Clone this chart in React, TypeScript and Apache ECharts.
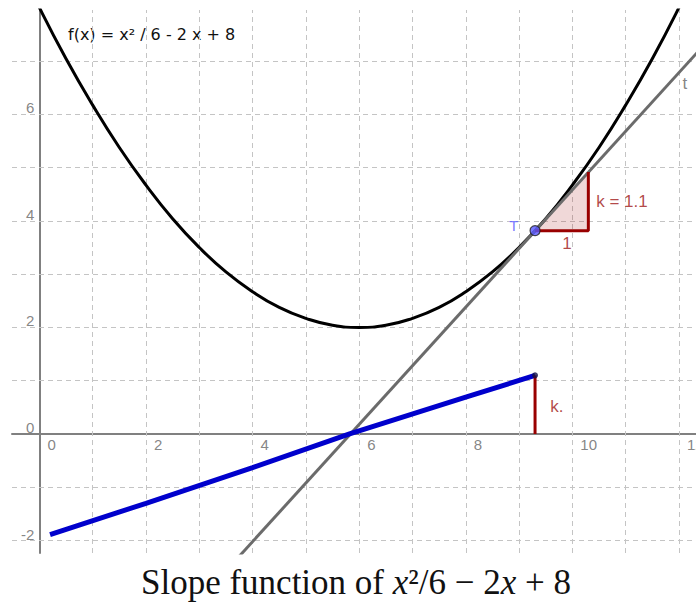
import React, { useEffect, useRef } from "react";
import * as echarts from "echarts";

// Parabola samples
const curveX = [-0.5, 0, 0.5, 1, 1.5, 2, 2.5, 3, 3.5, 4, 4.5, 5, 5.5, 6, 6.5, 7, 7.5, 8, 8.5, 9, 9.5, 10, 10.5, 11, 11.5, 12, 12.5];
const curveY = [9.04, 8, 7.04, 6.17, 5.375, 4.67, 4.04, 3.5, 3.04, 2.67, 2.375, 2.17, 2.04, 2, 2.04, 2.17, 2.375, 2.67, 3.04, 3.5, 4.04, 4.67, 5.375, 6.17, 7.04, 8, 9.04];

// Tangent line t
const tangentX = [3.5, 12.5];
const tangentY = [-2.57, 7.33];

// Slope function trace (blue)
const traceX = [0.2, 2, 4, 5.82, 8, 9.3];
const traceY = [-1.89, -1.3, -0.63, 0, 0.69, 1.1];

// Slope triangle
const slopeX = [9.3, 10.3, 10.3];
const slopeY = [3.815, 3.815, 4.915];

// k segment
const kSegX = [9.3, 9.3];
const kSegY = [0, 1.1];

// Point T
const pointT = [9.3, 3.815];

// Ticks and grid
const xTicks = [0, 2, 4, 6, 8, 10, 12];
const yTicks = [-2, 0, 2, 4, 6];
const gridXs = [1, 2, 3, 4, 5, 6, 7, 8, 9, 10, 11, 12];
const gridYs = [-2, -1, 1, 2, 3, 4, 5, 6, 7];

const zip = (a: number[], b: number[]) => a.map((v, i) => [v, b[i]]);

export default function App() {
  const ref = useRef<HTMLDivElement>(null);
  useEffect(() => {
    const chart = echarts.init(ref.current!, null, { renderer: "svg" });
    const red = "#990000";
    const textRed = "#a01818";
    const gridLines = [
      ...gridXs.map((v) => ({ xAxis: v })),
      ...gridYs.map((v) => ({ yAxis: v })),
    ];
    const tickLabelStyle = {
      show: true,
      position: "inside",
      formatter: (p: any) => p.name,
      color: "#666",
      fontFamily: "Liberation Sans",
      fontSize: 15,
    };
    chart.setOption({
      animation: false,
      grid: { left: 12, right: 0, top: 10, bottom: 50, containLabel: false, outerBoundsMode: "none" },
      xAxis: {
        type: "value",
        min: -0.514,
        max: 12.32,
        axisLine: { onZero: true, lineStyle: { color: "#808080", width: 2 } },
        axisTick: { show: false },
        splitLine: { show: false },
        axisLabel: { show: false },
      },
      yAxis: {
        type: "value",
        min: -2.233,
        max: 7.955,
        axisLine: { onZero: true, lineStyle: { color: "#808080", width: 2 } },
        axisTick: { show: false },
        splitLine: { show: false },
        axisLabel: { show: false },
      },
      graphic: [
        {
          type: "text",
          x: 68,
          y: 34,
          style: {
            text: "f(x) = x² / 6 - 2 x + 8",
            fontFamily: "DejaVu Sans",
            fontSize: 16,
            fill: "#111",
            verticalAlign: "middle",
          },
        },
        {
          type: "text",
          x: 356,
          y: 582,
          style: {
            text: "{r|Slope function of }{i|x}{r|²/6 − 2}{i|x}{r| + 8}",
            align: "center",
            verticalAlign: "middle",
            rich: {
              r: { fontFamily: "Liberation Serif", fontSize: 35, fill: "#111" },
              i: { fontFamily: "Liberation Serif", fontStyle: "italic", fontSize: 35, fill: "#111" },
            },
          },
        },
      ],
      series: [
        {
          type: "line",
          data: [],
          z: 1,
          markLine: {
            silent: true,
            z: 1,
            symbol: ["none", "none"],
            label: { show: false },
            lineStyle: { color: "#c4c4c4", width: 1, type: [5, 4] },
            data: gridLines,
          },
        },
        {
          type: "scatter",
          z: 2,
          symbolSize: 1,
          itemStyle: { color: "transparent" },
          label: { ...tickLabelStyle, align: "left", verticalAlign: "top", offset: [8, 3] },
          data: xTicks.map((v) => ({ name: String(v), value: [v, 0] })),
        },
        {
          type: "scatter",
          z: 2,
          symbolSize: 1,
          itemStyle: { color: "transparent" },
          label: { ...tickLabelStyle, align: "right", verticalAlign: "bottom", offset: [-5, 1] },
          data: yTicks.map((v) => ({ name: String(v), value: [0, v] })),
        },
        {
          type: "custom",
          z: 2,
          renderItem: (params: any, api: any) => {
            const pts = slopeX.map((x, i) => api.coord([x, slopeY[i]]));
            return {
              type: "polygon",
              shape: { points: pts },
              style: { fill: "rgba(170, 40, 40, 0.18)" },
            };
          },
          data: [[0]],
        },
        {
          type: "line",
          data: zip(curveX, curveY),
          smooth: true,
          showSymbol: false,
          z: 3,
          lineStyle: { color: "#000", width: 3 },
        },
        {
          type: "line",
          data: zip(tangentX, tangentY),
          showSymbol: false,
          z: 4,
          lineStyle: { color: "#6b6b6b", width: 3 },
        },
        {
          type: "line",
          data: zip(slopeX, slopeY),
          showSymbol: false,
          z: 4,
          lineStyle: { color: red, width: 3 },
        },
        {
          type: "line",
          data: zip(traceX, traceY),
          showSymbol: false,
          z: 4,
          lineStyle: { color: "#0000cc", width: 5 },
        },
        {
          type: "line",
          data: zip(kSegX, kSegY),
          showSymbol: false,
          z: 4,
          lineStyle: { color: red, width: 3 },
        },
        {
          type: "scatter",
          z: 5,
          data: [[traceX[traceX.length - 1], traceY[traceY.length - 1]]],
          symbolSize: 6,
          itemStyle: { color: "#10104a" },
        },
        {
          type: "scatter",
          z: 6,
          data: [pointT],
          symbolSize: 10,
          itemStyle: { color: "#5757ff", borderColor: "#222", borderWidth: 1.2 },
          label: {
            show: true,
            formatter: "T",
            position: "left",
            distance: 11,
            offset: [0, -5],
            color: "#5a5aff",
            fontFamily: "Liberation Sans",
            fontSize: 15,
          },
        },
        {
          type: "scatter",
          z: 6,
          symbolSize: 1,
          itemStyle: { color: "transparent" },
          label: {
            show: true,
            position: "inside",
            formatter: (p: any) => p.name,
            fontFamily: "Liberation Sans",
            fontSize: 17,
          },
          data: [
            { name: "1", value: [9.9, 3.565], label: { color: textRed } },
            { name: "k = 1.1", value: [10.93, 4.37], label: { color: textRed } },
            { name: "k.", value: [9.71, 0.51], label: { color: textRed } },
            { name: "t", value: [12.11, 6.57], label: { color: "#666" } },
          ],
        },
      ],
    });
    return () => chart.dispose();
  }, []);
  return (
    <div
      ref={ref}
      style={{ position: "fixed", left: 0, top: 0, width: 696, height: 603, background: "#fff" }}
    />
  );
}
